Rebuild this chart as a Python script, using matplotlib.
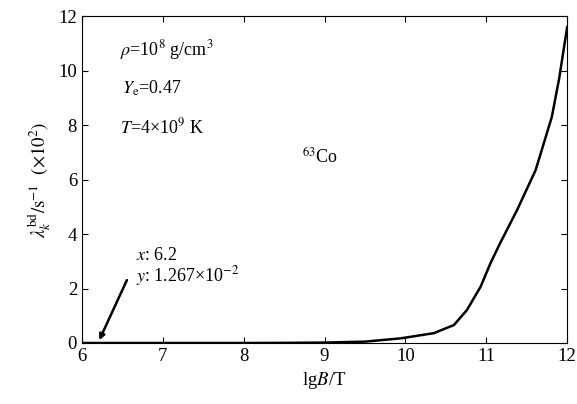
import numpy as np
import matplotlib.pyplot as plt

plt.rcParams['font.family'] = ['Liberation Serif', 'DejaVu Serif']
plt.rcParams['mathtext.fontset'] = 'stix'

# curve (lgB/T vs rate in 1e2 s^-1)
lgB = [6.0, 7.0, 8.0, 8.5, 9.0, 9.5, 9.94, 10.35, 10.6, 10.76, 10.93, 11.05, 11.17, 11.38, 11.61, 11.81, 11.9, 12.0]
rate = [0.0, 0.0, 0.0, 0.005, 0.015, 0.05, 0.17, 0.36, 0.66, 1.21, 2.07, 2.92, 3.66, 4.88, 6.35, 8.3, 9.7, 11.6]

fig, ax = plt.subplots(figsize=(5.77, 4.04), dpi=100)
fig.subplots_adjust(left=0.142, right=0.983, top=0.96, bottom=0.151)

ax.plot(lgB, rate, color='black', lw=1.8)

ax.set_xlim(6, 12)
ax.set_ylim(0, 12)
ax.set_xticks(range(6, 13))
ax.set_yticks(range(0, 13, 2))
ax.tick_params(direction='in', top=True, right=True, labelsize=13.5, length=4)
ax.set_xlabel(r'lg$B$/T', fontsize=13.5)
ax.set_ylabel(r'$\lambda_k^{\rm bd}/{\rm s}^{-1}$  $(\times 10^2)$', fontsize=13.5)

ax.text(6.47, 10.75, r'$\rho$=10$^8$ g/cm$^3$', fontsize=13, va='center')
ax.text(6.5, 9.36, r'$Y_{\rm e}$=0.47', fontsize=13, va='center')
ax.text(6.47, 7.93, r'$T$=4×10$^9$ K', fontsize=13, va='center')
ax.text(8.72, 6.8, r'$^{63}$Co', fontsize=13, va='center')

ax.annotate('', xy=(6.2, 0.0127), xytext=(6.57, 2.4),
            arrowprops=dict(arrowstyle='-|>', color='black', lw=1.8, mutation_scale=8))
ax.text(6.67, 3.22, r'$x$: 6.2', fontsize=13, va='center')
ax.text(6.67, 2.45, r'$y$: 1.267×10$^{-2}$', fontsize=13, va='center')

fig.savefig('out.png', dpi=100)
